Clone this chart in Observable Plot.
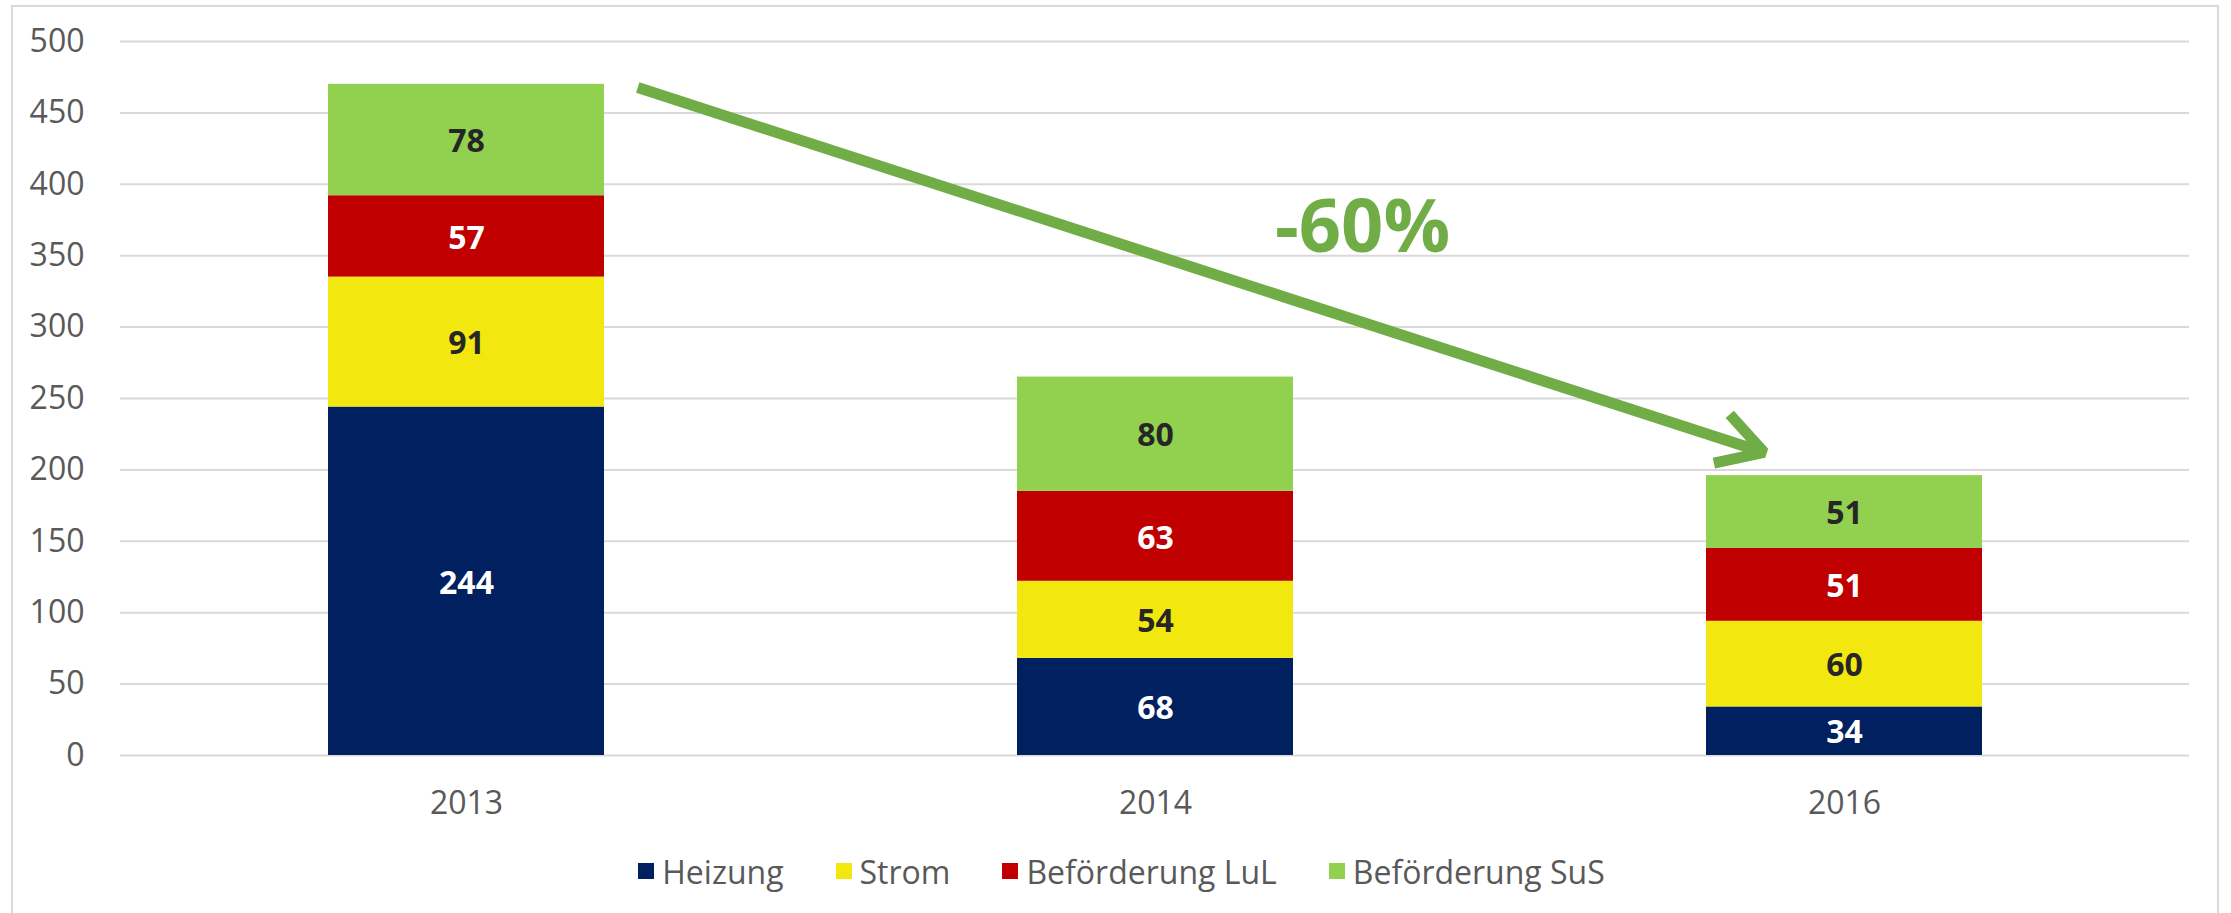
<!DOCTYPE html>
<html>
<head>
<meta charset="utf-8">
<script src="https://cdn.jsdelivr.net/npm/d3@7"></script>
<script src="https://cdn.jsdelivr.net/npm/@observablehq/plot@0.6"></script>
<style>
  body { margin: 0; background: #fff; font-family: "Open Sans", sans-serif; }
  #wrap { position: relative; width: 2231px; height: 913px; overflow: hidden; }
  #frame { position: absolute; left: 11px; top: 5px; width: 2208px; height: 920px; border: 2px solid #d9d9d9; box-sizing: border-box; pointer-events: none; }
  #legend { display: flex; justify-content: center; align-items: center; height: 62px; padding-left: 12px; color: #595959; font-size: 32px; font-family: "Open Sans", sans-serif; }
  .item { display: flex; align-items: center; margin: 0 26px; }
  .sw { width: 16px; height: 16px; margin-right: 8px; }
</style>
</head>
<body>
<div id="wrap">
  <div id="chart"></div>
  <div id="legend"></div>
  <div id="frame"></div>
</div>
<script>
// ---- data ----
const years = ["2013", "2014", "2016"];
const series = ["Heizung", "Strom", "Beförderung LuL", "Beförderung SuS"];
const heizung = [244, 68, 34];
const strom = [91, 54, 60];
const befoerderungLuL = [57, 63, 51];
const befoerderungSuS = [78, 80, 51];
const seriesColors = ["#002060", "#F2E70F", "#C00000", "#92D050"];
const darkLabelSeries = ["Strom", "Beförderung SuS"];
const yTicks = [0, 50, 100, 150, 200, 250, 300, 350, 400, 450, 500];
const trendArrow = [{from: "2013", to: "2016", start: 506.6, end: 194}];
const trendLabel = [{year: "2014", value: 369, text: "-60%"}];

const values = [heizung, strom, befoerderungLuL, befoerderungSuS];
const rows = years.flatMap((year, i) =>
  series.map((s, j) => ({year, series: s, value: values[j][i]})));

const plot = Plot.plot({
  width: 2231,
  height: 840,
  marginTop: 41,
  marginBottom: 85,
  marginLeft: 120,
  marginRight: 42,
  style: {fontFamily: "Open Sans, sans-serif", fontSize: "32px", color: "#595959", background: "transparent"},
  x: {domain: years, paddingInner: 0.6, paddingOuter: 0.3, label: null},
  y: {domain: [0, 500], label: null},
  color: {domain: series, range: seriesColors},
  marks: [
    Plot.gridY(yTicks, {stroke: "#d9d9d9", strokeOpacity: 1, strokeWidth: 2}),
    Plot.axisY(yTicks, {tickSize: 0, tickPadding: 36, fontSize: 32, label: null, fill: "#595959"}),
    Plot.axisX({tickSize: 0, tickPadding: 36, fontSize: 32, label: null, fill: "#595959"}),
    Plot.barY(rows, {x: "year", y: "value", z: "series", fill: "series"}),
    Plot.text(rows, Plot.stackY({
      x: "year", y: "value", z: "series",
      text: d => darkLabelSeries.includes(d.series) ? "" : String(d.value),
      fill: "#ffffff", fontWeight: "bold", fontSize: 32, dy: 2
    })),
    Plot.text(rows, Plot.stackY({
      x: "year", y: "value", z: "series",
      text: d => darkLabelSeries.includes(d.series) ? String(d.value) : "",
      fill: "#262626", fontWeight: "bold", fontSize: 32, dy: 2
    })),
    Plot.arrow(trendArrow, {
      x1: "from", x2: "to", y1: "start", y2: "end",
      stroke: "#70AD47", strokeWidth: 11, headLength: 7, headAngle: 60,
      insetStart: 180, insetEnd: 84.5, strokeLinecap: "butt"
    }),
    Plot.text(trendLabel, {
      x: "year", y: "value", text: "text", dx: 207,
      fill: "#70AD47", fontWeight: "bold", fontSize: 74
    })
  ]
});
document.getElementById("chart").appendChild(plot);

const legend = document.getElementById("legend");
series.forEach((s, i) => {
  const item = document.createElement("div");
  item.className = "item";
  const sw = document.createElement("div");
  sw.className = "sw";
  sw.style.background = seriesColors[i];
  const label = document.createElement("span");
  label.textContent = s;
  item.appendChild(sw);
  item.appendChild(label);
  legend.appendChild(item);
});
</script>
</body>
</html>
